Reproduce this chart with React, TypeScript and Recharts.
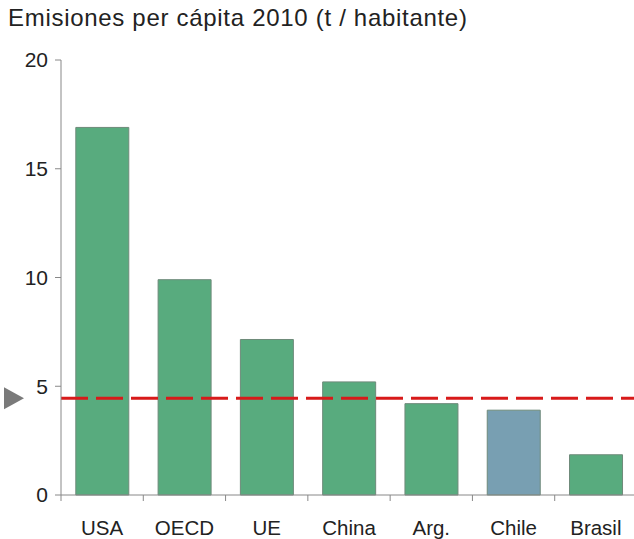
import React from "react";
import { BarChart, Bar, XAxis, YAxis, Cell, ReferenceLine } from "recharts";

const categories = ["USA", "OECD", "UE", "China", "Arg.", "Chile", "Brasil"];
const values = [16.9, 9.9, 7.15, 5.2, 4.2, 3.9, 1.85];
const yTicks = [0, 5, 10, 15, 20];
const worldAverage = 4.45;
const highlight = "Chile";

const data = categories.map((c, i) => ({ name: c, value: values[i] }));

const FONT = "'Liberation Sans', Arial, sans-serif";

const XTick = (props: any) => {
  const { x, y, payload } = props;
  const half = payload && payload.offset ? payload.offset : 41;
  return (
    <g>
      <line x1={x - half} y1={y - 8} x2={x - half} y2={y - 2} stroke="#888" strokeWidth={1} />
      <text x={x} y={y + 17} dy="0.71em" textAnchor="middle" fontSize={20.5} fill="#222" fontFamily={FONT}>
        {payload.value}
      </text>
    </g>
  );
};

const TriangleLabel = (props: any) => {
  const vb = props.viewBox || {};
  const yy = vb.y;
  const x0 = vb.x - 57;
  return <polygon points={`${x0},${yy - 11} ${x0 + 20},${yy} ${x0},${yy + 11}`} fill="#7a7a7a" />;
};

export default function App() {
  return (
    <div
      style={{
        position: "absolute",
        left: 0,
        top: 0,
        width: 634,
        height: 539,
        background: "#fff",
        overflow: "hidden",
      }}
    >
      <div
        style={{
          position: "absolute",
          left: 8,
          top: 4,
          fontFamily: FONT,
          fontSize: 24,
          letterSpacing: 0.7,
          color: "#222",
          whiteSpace: "nowrap",
        }}
      >
        Emisiones per cápita 2010 (t / habitante)
      </div>
      <BarChart
        width={637}
        height={539}
        data={data}
        margin={{ top: 60, right: 0, left: 21, bottom: 14 }}
        barCategoryGap="18%"
      >
        <XAxis
          dataKey="name"
          tick={<XTick />}
          tickLine={false}
          axisLine={{ stroke: "#888" }}
          height={30}
          interval={0}
        />
        <YAxis
          domain={[0, 20]}
          ticks={yTicks}
          width={40}
          tickSize={6}
          tickMargin={7}
          axisLine={{ stroke: "#888" }}
          tickLine={{ stroke: "#888" }}
          tick={{ fontSize: 21, fill: "#222", fontFamily: FONT }}
          interval={0}
        />
        <Bar dataKey="value" stroke="#6e8a7a" strokeWidth={1} isAnimationActive={false}>
          {data.map((d) => (
            <Cell key={d.name} fill={d.name === highlight ? "#789fb2" : "#58ab7e"} />
          ))}
        </Bar>
        <ReferenceLine
          y={worldAverage}
          stroke="#d81a1a"
          strokeWidth={3}
          strokeDasharray="27 8"
          label={<TriangleLabel />}
          ifOverflow="visible"
        />
      </BarChart>
    </div>
  );
}
